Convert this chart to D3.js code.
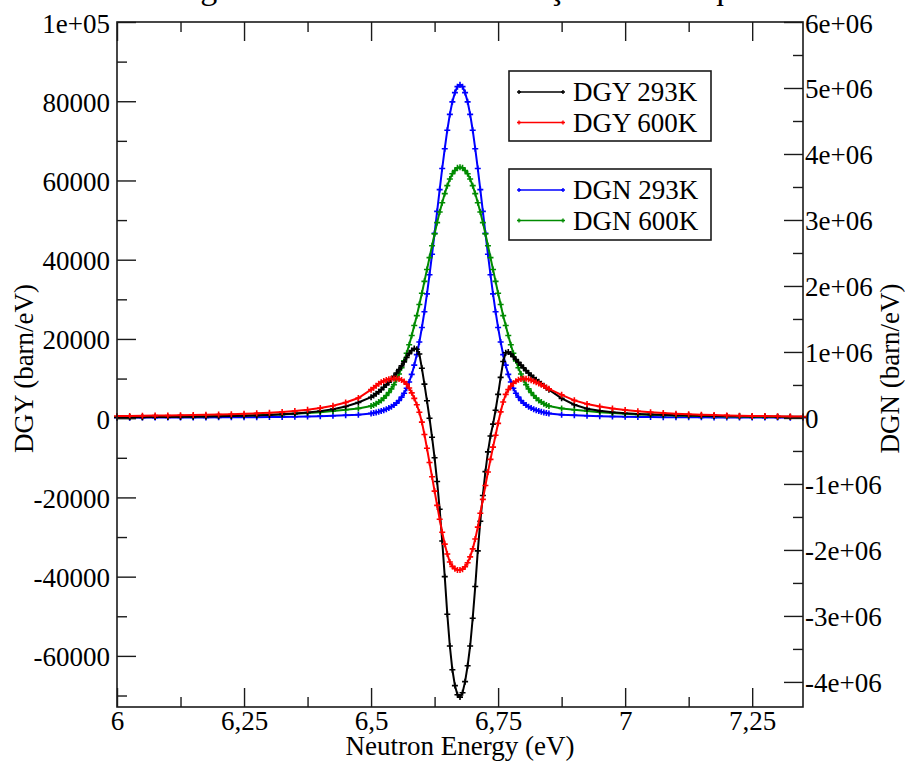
<!DOCTYPE html>
<html>
<head>
<meta charset="utf-8">
<script src="https://cdn.jsdelivr.net/npm/d3@7"></script>
<style>
  body { margin: 0; background: #fff; }
  svg { display: block; }
  text { font-family: "Liberation Serif", "Times New Roman", serif; fill: #000; }
</style>
</head>
<body>
<svg id="chart" width="905" height="764"></svg>
<script>
// Neutron energy grid (eV)
const energy = [
  6.000, 6.025, 6.050, 6.075, 6.100, 6.125, 6.150, 6.175, 6.200, 6.225,
  6.250, 6.275, 6.300, 6.325, 6.350, 6.375, 6.400, 6.425, 6.450, 6.475,
  6.500, 6.505, 6.510, 6.515, 6.520, 6.525, 6.530, 6.535, 6.540, 6.545,
  6.550, 6.555, 6.560, 6.565, 6.570, 6.575, 6.580, 6.585, 6.590, 6.595,
  6.600, 6.605, 6.610, 6.615, 6.620, 6.625, 6.630, 6.635, 6.640, 6.645,
  6.650, 6.655, 6.660, 6.665, 6.670, 6.675, 6.680, 6.685, 6.690, 6.695,
  6.700, 6.705, 6.710, 6.715, 6.720, 6.725, 6.730, 6.735, 6.740, 6.745,
  6.750, 6.755, 6.760, 6.765, 6.770, 6.775, 6.780, 6.785, 6.790, 6.795,
  6.800, 6.805, 6.810, 6.815, 6.820, 6.825, 6.830, 6.835, 6.840, 6.845,
  6.850,
  6.875, 6.900, 6.925, 6.950, 6.975, 7.000, 7.025, 7.050, 7.075, 7.100,
  7.125, 7.150, 7.175, 7.200, 7.225, 7.250, 7.275, 7.300, 7.325, 7.350
];

// DGY (barn/eV), left axis
const dgy293 = [
  200, 220, 240, 270, 300, 330, 370, 410, 460, 520,
  600, 700, 820, 970, 1160, 1420, 1780, 2280, 2950, 3950,
  5300, 5700, 6150, 6650, 7200, 7800, 8400, 9100, 9800, 10600,
  11400, 12300, 13200, 14200, 15300, 16300, 17100, 17600, 17400, 16200,
  12600, 8600, 4400, 0, -4800, -10000, -16000, -23000, -31000, -40000,
  -49500, -57500, -63500, -67500, -69800, -70400, -69300, -66500, -62500, -57500,
  -50500, -42500, -33500, -26000, -19500, -13500, -8500, -4500, -1500, 2000,
  6000, 10300, 14300, 16500, 16700, 16200, 15500, 14800, 14100, 13400,
  12700, 12000, 11400, 10800, 10200, 9700, 9200, 8700, 8200, 7700,
  7200,
  5000, 3400, 2400, 1850, 1500, 1250, 1080, 950, 850, 760,
  690, 630, 580, 530, 490, 450, 420, 390, 360, 340
];
const dgy600 = [
  550, 580, 610, 650, 690, 740, 790, 850, 920, 1000,
  1100, 1220, 1370, 1560, 1800, 2120, 2550, 3150, 3950, 5100,
  7200, 7700, 8200, 8700, 9100, 9400, 9650, 9850, 9950, 10000,
  10000, 9900, 9650, 9250, 8600, 7600, 6400, 5000, 3400, 1500,
  -1000, -4100, -7600, -11200, -14800, -18400, -22000, -25500, -28800, -31800,
  -34300, -36300, -37400, -38000, -38300, -38300, -38100, -37500, -36500, -35000,
  -33000, -30500, -27500, -24000, -20500, -17000, -13600, -10400, -7300, -4300,
  -1300, 1600, 4100, 6000, 7200, 8100, 8800, 9300, 9700, 9900,
  10000, 9950, 9800, 9600, 9350, 9050, 8750, 8450, 8100, 7750,
  7400,
  5900, 4500, 3600, 2950, 2450, 2050, 1750, 1500, 1300, 1130,
  990, 880, 780, 700, 630, 570, 520, 470, 430, 400
];

// DGN (barn/eV), right axis
const dgn293 = [
  4400, 4700, 5000, 5500, 6000, 6500, 7000, 8000, 9000, 10000,
  11000, 12000, 14000, 16000, 19000, 22000, 27000, 33000, 40000, 50000,
  69000, 76000, 84000, 94000, 105000, 118000, 132000, 150000, 170000, 195000,
  225000, 265000, 315000, 375000, 450000, 545000, 660000, 800000, 960000, 1150000,
  1370000, 1610000, 1880000, 2170000, 2480000, 2800000, 3130000, 3460000, 3780000, 4080000,
  4360000, 4600000, 4790000, 4930000, 5020000, 5050000, 5020000, 4930000, 4790000, 4600000,
  4360000, 4080000, 3780000, 3460000, 3130000, 2800000, 2480000, 2170000, 1880000, 1610000,
  1370000, 1150000, 960000, 800000, 660000, 545000, 450000, 375000, 315000, 265000,
  225000, 195000, 170000, 150000, 132000, 118000, 105000, 94000, 84000, 76000,
  69000,
  50000, 40000, 33000, 27000, 22000, 19000, 16000, 14000, 12000, 11000,
  10000, 9000, 8000, 7000, 6500, 6000, 5500, 5000, 4700, 4400
];
const dgn600 = [
  14000, 15000, 16000, 17000, 19000, 21000, 23000, 25000, 28000, 32000,
  36000, 41000, 47000, 54000, 63000, 74000, 88000, 105000, 125000, 145000,
  180000, 195000, 215000, 240000, 265000, 300000, 340000, 385000, 440000, 505000,
  580000, 665000, 760000, 865000, 980000, 1110000, 1250000, 1400000, 1550000, 1720000,
  1890000, 2070000, 2250000, 2430000, 2610000, 2790000, 2960000, 3120000, 3260000, 3400000,
  3520000, 3620000, 3700000, 3750000, 3790000, 3800000, 3790000, 3750000, 3700000, 3620000,
  3520000, 3400000, 3260000, 3120000, 2960000, 2790000, 2610000, 2430000, 2250000, 2070000,
  1890000, 1720000, 1550000, 1400000, 1250000, 1110000, 980000, 865000, 760000, 665000,
  580000, 505000, 440000, 385000, 340000, 300000, 265000, 240000, 215000, 195000,
  180000,
  145000, 125000, 105000, 88000, 74000, 63000, 54000, 47000, 41000, 36000,
  32000, 28000, 25000, 23000, 21000, 19000, 17000, 16000, 15000, 14000
];

// Axis ticks and labels
const xMajor = [6, 6.25, 6.5, 6.75, 7, 7.25];
const xMajorLabels = ["6", "6,25", "6,5", "6,75", "7", "7,25"];
const xMinor = [6.125, 6.375, 6.625, 6.875, 7.125];
const yLeftMajor = [100000, 80000, 60000, 40000, 20000, 0, -20000, -40000, -60000];
const yLeftLabels = ["1e+05", "80000", "60000", "40000", "20000", "0", "-20000", "-40000", "-60000"];
const yLeftMinor = [90000, 70000, 50000, 30000, 10000, -10000, -30000, -50000, -70000];
const yRightMajor = [6e6, 5e6, 4e6, 3e6, 2e6, 1e6, 0, -1e6, -2e6, -3e6, -4e6];
const yRightLabels = ["6e+06", "5e+06", "4e+06", "3e+06", "2e+06", "1e+06", "0", "-1e+06", "-2e+06", "-3e+06", "-4e+06"];
const yRightMinor = [5.5e6, 4.5e6, 3.5e6, 2.5e6, 1.5e6, 0.5e6, -0.5e6, -1.5e6, -2.5e6, -3.5e6];

const seriesNames = ["DGY 293K", "DGY 600K", "DGN 293K", "DGN 600K"];
const seriesColors = ["#000000", "#ff0000", "#0000ff", "#008b00"];

const titleText = "Figura 3 – Derivadas das seções de choque";
const xTitle = "Neutron Energy (eV)";
const yLeftTitle = "DGY (barn/eV)";
const yRightTitle = "DGN (barn/eV)";

// ---- layout ----
const svg = d3.select("#chart");
const plot = { left: 117, right: 803, top: 22, bottom: 707 };
const FS = 27;
const axisColor = "#1a1a1a";

svg.append("rect").attr("width", 905).attr("height", 764).attr("fill", "#fff");

const x = d3.scaleLinear().domain([6, 7.35]).range([plot.left, plot.right]);
const yL = d3.scaleLinear().domain([-72900, 100000]).range([plot.bottom, plot.top]);
const yR = d3.scaleLinear().domain([-4380000, 6000000]).range([plot.bottom, plot.top]);

// title (sits at the very top edge of the page)
svg.append("text")
  .attr("x", 464).attr("y", -1)
  .attr("text-anchor", "middle")
  .attr("font-size", 34)
  .text(titleText);

// ---- curves ----
const curves = [
  { values: dgn293, scale: yR, color: seriesColors[2] },
  { values: dgn600, scale: yR, color: seriesColors[3] },
  { values: dgy293, scale: yL, color: seriesColors[0] },
  { values: dgy600, scale: yL, color: seriesColors[1] }
];
const plusPath = "M-3,0H3M0,-3V3";

const gCurves = svg.append("g");
curves.forEach(c => {
  const pts = energy.map((e, i) => [x(e), c.scale(c.values[i])]);
  gCurves.append("path")
    .attr("d", d3.line()(pts))
    .attr("fill", "none")
    .attr("stroke", c.color)
    .attr("stroke-width", 2);
  gCurves.append("g").selectAll("path")
    .data(pts).join("path")
    .attr("transform", p => `translate(${p[0]},${p[1]})`)
    .attr("d", plusPath)
    .attr("stroke", c.color)
    .attr("stroke-width", 1.6)
    .attr("fill", "none");
});

// ---- axes ----
function styleAxis(g) {
  g.selectAll(".domain").remove();
  g.selectAll("line").attr("stroke", axisColor).attr("stroke-width", 1.4);
  g.selectAll("text").attr("font-size", FS)
    .attr("font-family", "'Liberation Serif', 'Times New Roman', serif")
    .attr("fill", "#000");
}

// bottom
svg.append("g").attr("transform", `translate(0,${plot.bottom})`)
  .call(d3.axisBottom(x).tickValues(xMajor).tickSize(-19).tickSizeOuter(0).tickPadding(4)
    .tickFormat((d, i) => xMajorLabels[i]))
  .call(styleAxis);
svg.append("g").attr("transform", `translate(0,${plot.bottom})`)
  .call(d3.axisBottom(x).tickValues(xMinor).tickSize(-10).tickSizeOuter(0).tickFormat(""))
  .call(styleAxis);
// top
svg.append("g").attr("transform", `translate(0,${plot.top})`)
  .call(d3.axisTop(x).tickValues(xMajor).tickSize(-19).tickSizeOuter(0).tickFormat(""))
  .call(styleAxis);
svg.append("g").attr("transform", `translate(0,${plot.top})`)
  .call(d3.axisTop(x).tickValues(xMinor).tickSize(-10).tickSizeOuter(0).tickFormat(""))
  .call(styleAxis);
// left
const gL = svg.append("g").attr("transform", `translate(${plot.left},0)`)
  .call(d3.axisLeft(yL).tickValues(yLeftMajor).tickSize(-19).tickSizeOuter(0).tickPadding(7)
    .tickFormat((d, i) => yLeftLabels[i]))
  .call(styleAxis);
gL.selectAll("text").attr("dy", "0.37em");
svg.append("g").attr("transform", `translate(${plot.left},0)`)
  .call(d3.axisLeft(yL).tickValues(yLeftMinor).tickSize(-10).tickSizeOuter(0).tickFormat(""))
  .call(styleAxis);
// right
const gR = svg.append("g").attr("transform", `translate(${plot.right},0)`)
  .call(d3.axisRight(yR).tickValues(yRightMajor).tickSize(-19).tickSizeOuter(0).tickPadding(2)
    .tickFormat((d, i) => yRightLabels[i]))
  .call(styleAxis);
gR.selectAll("text").attr("dy", "0.37em");
svg.append("g").attr("transform", `translate(${plot.right},0)`)
  .call(d3.axisRight(yR).tickValues(yRightMinor).tickSize(-10).tickSizeOuter(0).tickFormat(""))
  .call(styleAxis);

// frame
svg.append("rect")
  .attr("x", plot.left).attr("y", plot.top)
  .attr("width", plot.right - plot.left).attr("height", plot.bottom - plot.top)
  .attr("fill", "none").attr("stroke", axisColor).attr("stroke-width", 1.6);

// axis titles
svg.append("text")
  .attr("x", (plot.left + plot.right) / 2).attr("y", 755)
  .attr("text-anchor", "middle").attr("font-size", FS)
  .text(xTitle);
svg.append("text")
  .attr("transform", `translate(33,${(plot.top + plot.bottom) / 2 + 4}) rotate(-90)`)
  .attr("text-anchor", "middle").attr("font-size", FS)
  .text(yLeftTitle);
svg.append("text")
  .attr("transform", `translate(899,${(plot.top + plot.bottom) / 2 + 4}) rotate(-90)`)
  .attr("text-anchor", "middle").attr("font-size", FS)
  .text(yRightTitle);

// ---- legends ----
const legendBoxes = [
  { y: 71, h: 70, items: [0, 1] },
  { y: 169, h: 71, items: [2, 3] }
];
legendBoxes.forEach(box => {
  const g = svg.append("g");
  g.append("rect")
    .attr("x", 509).attr("y", box.y)
    .attr("width", 202).attr("height", box.h)
    .attr("fill", "#fff").attr("stroke", axisColor).attr("stroke-width", 1.6);
  box.items.forEach((k, j) => {
    const cy = box.y + 21 + j * 30.5;
    g.append("line")
      .attr("x1", 519).attr("x2", 563).attr("y1", cy).attr("y2", cy)
      .attr("stroke", seriesColors[k]).attr("stroke-width", 1.5);
    [519, 563].forEach(px => {
      g.append("path")
        .attr("transform", `translate(${px},${cy})`)
        .attr("d", "M-2,0H2M0,-2V2")
        .attr("stroke", seriesColors[k]).attr("stroke-width", 1.4);
    });
    g.append("text")
      .attr("x", 573).attr("y", cy + 9)
      .attr("font-size", FS)
      .text(seriesNames[k]);
  });
});
</script>
</body>
</html>
